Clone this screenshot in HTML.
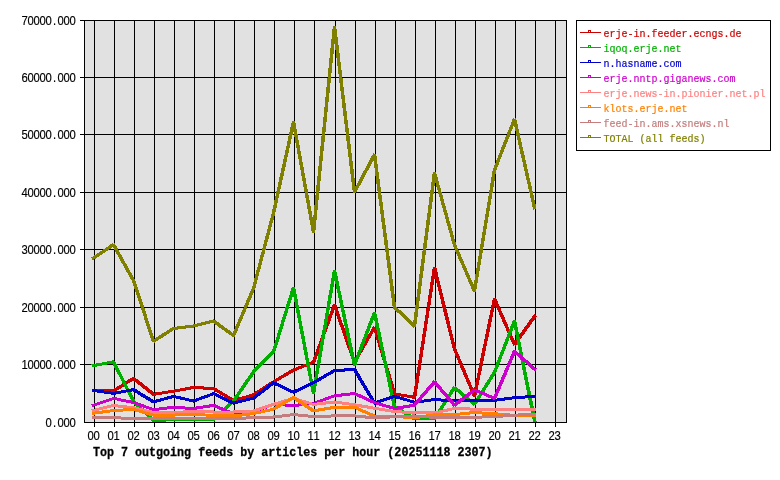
<!DOCTYPE html>
<html><head><meta charset="utf-8"><title>Top 7 outgoing feeds by articles per hour</title>
<style>html,body{margin:0;padding:0;background:#fff;}svg{display:block;will-change:transform;}text{font-family:"Liberation Mono",monospace;}.s{font-size:12px;stroke-width:0.2px;paint-order:stroke;}.t{font-size:13.5px;font-weight:bold;stroke:#000;stroke-width:0.3px;}.l{font-size:11.3px;}.d text{font-family:"Liberation Sans",sans-serif;font-size:12px;stroke-width:0.15px;}</style></head><body>
<svg width="780" height="480" viewBox="0 0 780 480">
<rect x="0" y="0" width="780" height="480" fill="#fff"/>
<rect x="84" y="20" width="483" height="403" fill="#e1e1e1"/>
<g fill="#000" shape-rendering="crispEdges">
<rect x="80" y="20" width="487" height="1"/>
<rect x="80" y="77" width="487" height="1"/>
<rect x="80" y="134" width="487" height="1"/>
<rect x="80" y="192" width="487" height="1"/>
<rect x="80" y="249" width="487" height="1"/>
<rect x="80" y="307" width="487" height="1"/>
<rect x="80" y="364" width="487" height="1"/>
<rect x="84" y="422" width="483" height="1"/>
<rect x="94" y="20" width="1" height="407"/>
<rect x="114" y="20" width="1" height="407"/>
<rect x="134" y="20" width="1" height="407"/>
<rect x="154" y="20" width="1" height="407"/>
<rect x="174" y="20" width="1" height="407"/>
<rect x="194" y="20" width="1" height="407"/>
<rect x="214" y="20" width="1" height="407"/>
<rect x="234" y="20" width="1" height="407"/>
<rect x="254" y="20" width="1" height="407"/>
<rect x="274" y="20" width="1" height="407"/>
<rect x="294" y="20" width="1" height="407"/>
<rect x="314" y="20" width="1" height="407"/>
<rect x="335" y="20" width="1" height="407"/>
<rect x="355" y="20" width="1" height="407"/>
<rect x="375" y="20" width="1" height="407"/>
<rect x="395" y="20" width="1" height="407"/>
<rect x="415" y="20" width="1" height="407"/>
<rect x="435" y="20" width="1" height="407"/>
<rect x="455" y="20" width="1" height="407"/>
<rect x="475" y="20" width="1" height="407"/>
<rect x="495" y="20" width="1" height="407"/>
<rect x="515" y="20" width="1" height="407"/>
<rect x="535" y="20" width="1" height="407"/>
<rect x="555" y="20" width="1" height="407"/>
<rect x="84" y="20" width="1" height="403"/>
<rect x="566" y="20" width="1" height="403"/>
</g>
<g stroke="none" shape-rendering="crispEdges">
<path fill="#cc0000" d="M91.7,392.3L114.1,392.5L114.1,389.5L91.7,389.3ZM113.9,392.8L134.9,379.4L133.1,376.5L112.1,389.9ZM131.9,379.3L152.9,396.0L155.1,393.3L134.1,376.6ZM153.1,395.9L174.3,392.6L173.9,389.6L152.7,392.9ZM173.2,392.8L194.4,388.9L193.8,385.9L172.6,389.8ZM192.8,389.0L214.0,390.0L214.2,387.0L193.0,386.0ZM212.1,389.6L233.2,402.2L234.9,399.4L213.8,386.8ZM233.3,402.1L254.5,396.1L253.7,393.2L232.5,399.2ZM253.9,396.6L274.9,383.1L273.1,380.2L252.1,393.7ZM273.8,383.7L294.9,371.1L293.2,368.3L272.1,380.9ZM293.5,371.7L314.6,363.5L313.5,360.6L292.4,368.8ZM314.9,363.5L336.3,305.0L333.1,303.8L311.7,362.3ZM332.7,305.0L353.0,363.4L356.3,362.3L336.0,303.9ZM355.7,363.7L376.3,327.6L373.3,325.9L352.7,362.0ZM372.7,327.2L393.0,394.8L396.3,393.8L376.0,326.2ZM393.6,395.1L414.8,399.0L415.4,396.0L394.2,392.2ZM416.1,398.3L436.3,267.4L432.9,266.8L412.7,397.7ZM432.7,267.5L452.9,350.0L456.3,349.2L436.1,266.7ZM452.7,349.1L473.1,397.2L476.3,395.9L455.9,347.8ZM476.1,396.9L496.3,298.8L492.9,298.1L472.7,396.2ZM492.7,299.2L513.1,345.8L516.3,344.3L495.9,297.7ZM515.6,346.0L537.0,316.1L534.1,314.0L512.7,344.0Z"/>
<path fill="#00b000" d="M92.0,367.4L114.4,363.1L113.8,360.1L91.4,364.5ZM111.7,362.0L132.2,402.6L135.3,401.0L114.8,360.4ZM131.9,402.1L152.7,422.2L155.1,419.7L134.3,399.6ZM153.0,422.0L174.2,421.2L174.0,418.2L152.8,419.0ZM172.9,421.2L194.1,421.2L194.1,418.2L172.9,418.2ZM192.9,421.2L214.1,421.2L214.1,418.2L192.9,418.2ZM214.3,421.4L235.1,401.9L232.7,399.3L211.9,418.8ZM234.6,402.5L255.3,372.5L252.4,370.5L231.7,400.5ZM254.3,373.7L275.2,352.8L272.7,350.3L251.8,371.2ZM275.0,353.1L295.3,287.5L292.0,286.5L271.7,352.1ZM291.7,287.3L311.9,394.1L315.3,393.5L295.1,286.7ZM315.1,394.1L336.3,270.5L332.9,269.9L311.7,393.5ZM332.7,270.6L352.9,366.0L356.3,365.2L336.1,269.8ZM355.9,366.2L376.3,312.8L373.1,311.5L352.7,364.9ZM372.7,312.5L392.9,407.5L396.3,406.7L376.1,311.7ZM393.1,407.6L414.1,420.5L415.9,417.6L394.9,404.7ZM413.9,420.2L435.1,420.2L435.1,417.2L413.9,417.2ZM435.7,420.2L456.3,387.9L453.3,386.1L432.7,418.3ZM452.9,388.5L473.8,405.9L476.1,403.2L455.2,385.8ZM475.7,405.6L496.3,372.8L493.3,371.0L472.7,403.8ZM495.9,373.6L516.3,320.9L513.1,319.6L492.7,372.3ZM512.7,320.6L533.1,422.4L536.6,421.7L516.1,319.9Z"/>
<path fill="#0000cc" d="M91.5,391.7L113.9,395.0L114.3,392.0L91.9,388.8ZM113.2,395.0L134.4,391.0L133.8,388.0L112.6,392.0ZM132.1,390.7L153.1,403.7L154.9,400.8L133.9,387.8ZM153.3,403.5L174.5,397.7L173.7,394.8L152.5,400.6ZM172.6,397.7L193.7,402.6L194.4,399.7L173.3,394.8ZM193.5,402.6L214.6,395.0L213.5,392.1L192.4,399.8ZM212.3,394.9L233.4,404.9L234.7,402.0L213.6,392.0ZM233.3,404.8L254.5,399.4L253.7,396.5L232.5,401.9ZM254.1,399.9L275.0,383.8L272.9,381.0L252.0,397.1ZM272.3,384.0L293.4,393.9L294.7,391.0L273.6,381.1ZM293.6,393.9L314.7,383.9L313.4,381.0L292.3,391.0ZM313.8,384.4L335.9,371.6L334.2,368.8L312.1,381.6ZM334.0,372.0L355.2,371.0L355.0,368.0L333.8,369.0ZM352.7,369.9L373.3,404.4L376.3,402.6L355.7,368.1ZM374.4,404.6L395.5,397.6L394.6,394.8L373.5,401.8ZM393.5,397.7L414.7,403.9L415.5,401.0L394.3,394.8ZM414.1,403.9L435.3,400.9L434.9,397.9L413.7,400.9ZM433.8,401.0L455.0,402.5L455.2,399.5L434.0,398.0ZM453.9,402.5L475.1,402.0L475.1,399.0L453.9,399.5ZM473.9,402.0L495.1,401.8L495.1,398.8L473.9,399.0ZM494.1,401.9L515.3,399.1L514.9,396.1L493.7,398.9ZM514.0,399.2L536.4,397.8L536.2,394.8L513.8,396.2Z"/>
<path fill="#cc00cc" d="M92.3,407.2L114.6,399.6L113.6,396.8L91.3,404.3ZM112.6,399.7L133.8,404.1L134.4,401.2L113.2,396.8ZM132.4,403.7L153.6,411.2L154.6,408.4L133.4,400.9ZM153.1,411.2L174.3,408.7L173.9,405.7L152.7,408.2ZM172.8,408.8L194.0,410.0L194.2,407.0L173.0,405.8ZM193.1,410.1L214.3,406.8L213.9,403.8L192.7,407.1ZM212.3,406.6L233.4,415.4L234.7,412.5L213.6,403.7ZM233.0,415.3L254.2,413.2L254.0,410.2L232.8,412.3ZM253.5,413.5L274.6,405.5L273.5,402.6L252.4,410.6ZM272.8,405.8L294.0,407.0L294.2,404.0L273.0,402.8ZM293.1,407.1L314.2,404.9L313.9,401.9L292.8,404.1ZM313.5,405.1L335.6,397.0L334.5,394.2L312.4,402.3ZM334.1,397.4L355.3,394.9L354.9,391.9L333.7,394.4ZM353.3,394.7L374.4,404.3L375.7,401.4L354.6,391.8ZM373.5,403.9L394.7,410.1L395.5,407.2L374.3,401.0ZM394.2,410.1L415.3,406.6L414.8,403.6L393.7,407.1ZM415.4,406.8L436.2,382.5L433.6,380.2L412.8,404.5ZM432.8,382.5L453.6,406.8L456.2,404.5L435.4,380.2ZM455.1,407.0L476.0,391.0L473.9,388.2L453.0,404.2ZM473.3,391.2L494.4,400.1L495.7,397.2L474.6,388.3ZM495.9,399.6L516.3,351.4L513.1,350.1L492.7,398.3ZM512.9,352.2L534.7,371.5L537.0,368.9L515.2,349.6Z"/>
<path fill="#ff8080" d="M92.1,412.2L114.4,406.8L113.7,403.9L91.4,409.3ZM112.7,406.9L133.9,409.3L134.3,406.3L113.1,403.9ZM132.6,409.0L153.7,414.1L154.4,411.2L133.3,406.1ZM152.9,414.0L174.1,413.9L174.1,410.9L152.9,411.0ZM173.0,413.9L194.2,413.1L194.0,410.1L172.8,410.9ZM192.9,413.1L214.1,413.5L214.1,410.5L192.9,410.1ZM212.9,413.5L234.1,413.5L234.1,410.5L212.9,410.5ZM233.0,413.5L254.2,412.5L254.0,409.5L232.8,410.5ZM253.4,412.6L274.6,405.5L273.6,402.7L252.4,409.8ZM273.3,405.9L294.5,399.7L293.7,396.8L272.5,403.0ZM292.5,399.7L313.6,406.0L314.5,403.1L293.4,396.8ZM313.1,406.0L335.3,403.4L334.9,400.4L312.7,403.0ZM333.7,403.4L354.9,406.3L355.3,403.3L334.1,400.4ZM353.6,406.1L374.8,409.9L375.4,406.9L354.2,403.1ZM373.7,409.7L394.8,413.2L395.3,410.2L374.2,406.7ZM393.8,413.1L415.0,414.2L415.2,411.2L394.0,410.1ZM413.9,414.2L435.1,414.5L435.1,411.5L413.9,411.2ZM434.3,414.6L455.4,409.7L454.7,406.8L433.6,411.7ZM453.8,409.9L475.0,410.7L475.2,407.7L454.0,406.9ZM473.9,410.7L495.1,410.8L495.1,407.8L473.9,407.7ZM493.9,410.8L515.1,410.8L515.1,407.8L493.9,407.8ZM513.9,410.8L536.3,410.9L536.3,407.9L513.9,407.8Z"/>
<path fill="#ff8000" d="M91.9,414.9L114.3,412.0L113.9,409.0L91.5,411.9ZM113.0,412.1L134.2,410.9L134.0,407.9L112.8,409.1ZM132.5,410.7L153.7,416.7L154.5,413.8L133.3,407.8ZM152.9,416.6L174.1,416.6L174.1,413.6L152.9,413.6ZM173.0,416.6L194.2,415.5L194.0,412.5L172.8,413.6ZM192.8,415.4L214.0,417.2L214.2,414.3L193.0,412.5ZM212.9,417.2L234.1,417.5L234.1,414.5L212.9,414.2ZM233.1,417.6L254.3,415.0L253.9,412.0L232.7,414.6ZM253.2,415.2L274.4,410.5L273.8,407.6L252.6,412.3ZM273.8,410.9L294.9,398.5L293.2,395.7L272.1,408.1ZM292.0,398.5L313.0,412.7L315.0,409.8L294.0,395.6ZM313.2,412.5L335.3,408.7L334.8,405.7L312.7,409.5ZM333.9,408.8L355.1,408.8L355.1,405.8L333.9,405.8ZM353.3,408.5L374.4,417.8L375.7,414.9L354.6,405.6ZM373.9,417.6L395.1,418.0L395.1,415.0L373.9,414.6ZM393.8,418.0L415.0,419.2L415.2,416.2L394.0,415.0ZM414.1,419.3L435.3,416.2L434.9,413.2L413.7,416.3ZM433.9,416.3L455.1,416.1L455.1,413.1L433.9,413.3ZM454.1,416.2L475.3,413.9L474.9,410.9L453.7,413.2ZM473.8,414.0L495.0,415.3L495.2,412.3L474.0,411.0ZM493.8,415.2L515.0,416.8L515.2,413.9L494.0,412.2ZM513.9,416.8L536.3,417.0L536.3,414.0L513.9,413.8Z"/>
<path fill="#c47c7c" d="M91.7,419.0L114.1,419.4L114.1,416.4L91.7,416.0ZM112.9,419.4L134.1,419.7L134.1,416.7L112.9,416.4ZM132.9,419.7L154.1,419.9L154.1,416.9L132.9,416.7ZM152.9,419.9L174.1,419.7L174.1,416.7L152.9,416.9ZM172.9,419.7L194.1,419.7L194.1,416.7L172.9,416.7ZM192.9,419.7L214.1,419.7L214.1,416.7L192.9,416.7ZM212.9,419.7L234.1,419.7L234.1,416.7L212.9,416.7ZM232.9,419.7L254.1,419.4L254.1,416.4L232.9,416.7ZM253.0,419.4L274.2,418.5L274.0,415.5L252.8,416.4ZM273.1,418.6L294.3,416.0L293.9,413.0L272.7,415.6ZM292.8,416.0L314.0,418.1L314.2,415.1L293.0,413.0ZM312.9,418.0L335.1,417.4L335.1,414.4L312.9,415.0ZM333.9,417.4L355.1,417.4L355.1,414.4L333.9,414.4ZM353.8,417.3L374.9,419.5L375.2,416.5L354.1,414.3ZM374.0,419.4L395.2,418.2L395.0,415.2L373.8,416.4ZM394.0,418.2L415.2,417.4L415.0,414.4L393.8,415.2ZM413.8,417.3L435.0,419.0L435.2,416.1L414.0,414.4ZM433.9,419.0L455.1,419.0L455.1,416.0L433.9,416.0ZM453.9,419.0L475.1,418.7L475.1,415.7L453.9,416.0ZM473.9,418.7L495.1,418.2L495.1,415.2L473.9,415.7ZM494.0,418.2L515.2,416.5L515.0,413.6L493.8,415.3ZM513.9,416.6L536.3,416.1L536.3,413.1L513.9,413.6Z"/>
<path fill="#808000" d="M93.0,260.4L115.0,245.7L113.0,242.8L91.1,257.6ZM111.7,244.9L132.3,281.9L135.3,280.2L114.7,243.2ZM131.7,280.5L152.0,342.4L155.3,341.3L135.0,279.4ZM153.9,343.1L174.9,329.6L173.1,326.7L152.1,340.2ZM173.1,330.1L194.3,327.4L193.9,324.4L172.7,327.1ZM193.3,327.6L214.4,322.3L213.7,319.4L192.6,324.7ZM212.0,322.1L233.0,337.3L235.0,334.4L214.0,319.2ZM234.9,336.7L255.3,288.6L252.1,287.3L231.7,335.4ZM255.0,289.5L275.3,212.9L272.0,212.0L251.7,288.6ZM275.1,214.0L295.3,121.8L291.9,121.0L271.7,213.2ZM291.7,121.7L311.9,232.9L315.3,232.3L295.1,121.1ZM315.2,232.8L336.3,26.3L332.8,25.9L311.7,232.4ZM332.7,26.3L352.8,192.8L356.3,192.4L336.2,25.9ZM355.8,193.4L376.3,155.0L373.2,153.3L352.7,191.7ZM372.7,154.3L392.8,308.1L396.3,307.7L376.2,153.9ZM392.9,308.2L413.7,327.7L416.1,325.1L395.3,305.6ZM416.2,326.8L436.3,172.6L432.8,172.2L412.7,326.4ZM432.7,172.9L453.0,246.0L456.3,245.1L436.0,172.0ZM452.7,245.1L473.1,292.2L476.3,290.9L455.9,243.8ZM476.1,291.9L496.3,169.7L492.9,169.1L472.7,291.3ZM495.9,171.2L516.3,119.3L513.1,118.0L492.7,169.9ZM512.7,119.0L533.2,209.6L536.6,208.9L516.1,118.2Z"/>
</g>
<g class="d" fill="#000" stroke="#000" transform="scale(0.94,1)">
<text x="22.98 29.36 35.74 42.13 48.51 56.28 61.28 67.66 74.04" y="24.8">70000.000</text>
<text x="22.98 29.36 35.74 42.13 48.51 56.28 61.28 67.66 74.04" y="81.8">60000.000</text>
<text x="22.98 29.36 35.74 42.13 48.51 56.28 61.28 67.66 74.04" y="138.8">50000.000</text>
<text x="22.98 29.36 35.74 42.13 48.51 56.28 61.28 67.66 74.04" y="196.8">40000.000</text>
<text x="22.98 29.36 35.74 42.13 48.51 56.28 61.28 67.66 74.04" y="253.8">30000.000</text>
<text x="22.98 29.36 35.74 42.13 48.51 56.28 61.28 67.66 74.04" y="311.8">20000.000</text>
<text x="22.98 29.36 35.74 42.13 48.51 56.28 61.28 67.66 74.04" y="368.8">10000.000</text>
<text x="48.51 56.28 61.28 67.66 74.04" y="426.8">0.000</text>
<text x="92.98 99.36" y="439.8">00</text>
<text x="114.26 120.64" y="439.8">01</text>
<text x="135.53 141.91" y="439.8">02</text>
<text x="156.81 163.19" y="439.8">03</text>
<text x="178.09 184.47" y="439.8">04</text>
<text x="199.36 205.74" y="439.8">05</text>
<text x="220.64 227.02" y="439.8">06</text>
<text x="241.91 248.30" y="439.8">07</text>
<text x="263.19 269.57" y="439.8">08</text>
<text x="284.47 290.85" y="439.8">09</text>
<text x="305.74 312.13" y="439.8">10</text>
<text x="327.02 333.40" y="439.8">11</text>
<text x="349.36 355.74" y="439.8">12</text>
<text x="370.64 377.02" y="439.8">13</text>
<text x="391.91 398.30" y="439.8">14</text>
<text x="413.19 419.57" y="439.8">15</text>
<text x="434.47 440.85" y="439.8">16</text>
<text x="455.74 462.13" y="439.8">17</text>
<text x="477.02 483.40" y="439.8">18</text>
<text x="498.30 504.68" y="439.8">19</text>
<text x="519.57 525.96" y="439.8">20</text>
<text x="540.85 547.23" y="439.8">21</text>
<text x="562.13 568.51" y="439.8">22</text>
<text x="583.40 589.79" y="439.8">23</text>
</g>
<text class="t" x="93" y="456.3" textLength="399.5" lengthAdjust="spacingAndGlyphs">Top 7 outgoing feeds by articles per hour (20251118 2307)</text>
<g shape-rendering="crispEdges">
<rect x="576.5" y="20.5" width="194" height="130" fill="#fff" stroke="#000" stroke-width="1"/>
<rect x="580" y="32" width="21" height="1" fill="#cc0000"/>
<rect x="588.5" y="30.5" width="2" height="2" fill="#fff" stroke="#cc0000" stroke-width="1"/>
<rect x="580" y="47" width="21" height="1" fill="#00b000"/>
<rect x="588.5" y="45.5" width="2" height="2" fill="#fff" stroke="#00b000" stroke-width="1"/>
<rect x="580" y="62" width="21" height="1" fill="#0000cc"/>
<rect x="588.5" y="60.5" width="2" height="2" fill="#fff" stroke="#0000cc" stroke-width="1"/>
<rect x="580" y="77" width="21" height="1" fill="#cc00cc"/>
<rect x="588.5" y="75.5" width="2" height="2" fill="#fff" stroke="#cc00cc" stroke-width="1"/>
<rect x="580" y="92" width="21" height="1" fill="#ff8080"/>
<rect x="588.5" y="90.5" width="2" height="2" fill="#fff" stroke="#ff8080" stroke-width="1"/>
<rect x="580" y="107" width="21" height="1" fill="#ff8000"/>
<rect x="588.5" y="105.5" width="2" height="2" fill="#fff" stroke="#ff8000" stroke-width="1"/>
<rect x="580" y="122" width="21" height="1" fill="#c47c7c"/>
<rect x="588.5" y="120.5" width="2" height="2" fill="#fff" stroke="#c47c7c" stroke-width="1"/>
<rect x="580" y="137" width="21" height="1" fill="#808000"/>
<rect x="588.5" y="135.5" width="2" height="2" fill="#fff" stroke="#808000" stroke-width="1"/>
</g>
<g class="s l">
<text x="603.5" y="36.8" fill="#cc0000" stroke="#cc0000" textLength="138" lengthAdjust="spacingAndGlyphs">erje-in.feeder.ecngs.de</text>
<text x="603.5" y="51.8" fill="#00b000" stroke="#00b000" textLength="78" lengthAdjust="spacingAndGlyphs">iqoq.erje.net</text>
<text x="603.5" y="66.8" fill="#0000cc" stroke="#0000cc" textLength="78" lengthAdjust="spacingAndGlyphs">n.hasname.com</text>
<text x="603.5" y="81.8" fill="#cc00cc" stroke="#cc00cc" textLength="132" lengthAdjust="spacingAndGlyphs">erje.nntp.giganews.com</text>
<text x="603.5" y="96.8" fill="#ff8080" stroke="#ff8080" textLength="162" lengthAdjust="spacingAndGlyphs">erje.news-in.pionier.net.pl</text>
<text x="603.5" y="111.8" fill="#ff8000" stroke="#ff8000" textLength="84" lengthAdjust="spacingAndGlyphs">klots.erje.net</text>
<text x="603.5" y="126.8" fill="#c47c7c" stroke="#c47c7c" textLength="126" lengthAdjust="spacingAndGlyphs">feed-in.ams.xsnews.nl</text>
<text x="603.5" y="141.8" fill="#808000" stroke="#808000" textLength="102" lengthAdjust="spacingAndGlyphs">TOTAL (all feeds)</text>
</g>
</svg></body></html>
